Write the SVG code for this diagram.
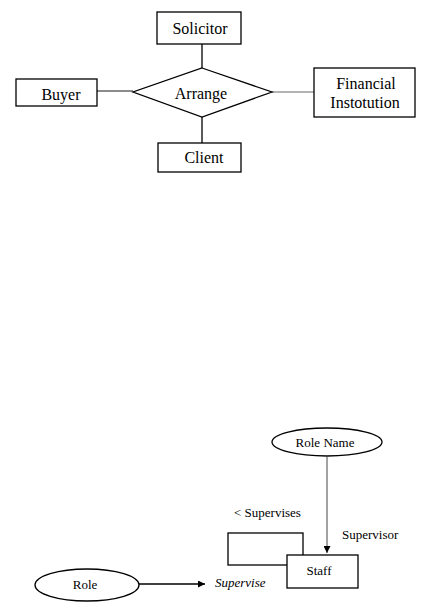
<svg xmlns="http://www.w3.org/2000/svg" width="433" height="612" viewBox="0 0 433 612">
<defs>
<style>
.box{fill:#fff;stroke:#000;stroke-width:1.3}
.t{font-family:"Liberation Serif","Times New Roman",serif;font-size:16px;fill:#000;text-anchor:middle}
.s{font-family:"Liberation Serif","Times New Roman",serif;font-size:13px;fill:#000}
.ln{stroke:#000;stroke-width:1.3;fill:none}
</style>
<marker id="ah" viewBox="0 0 10 10" refX="10" refY="5" markerWidth="7" markerHeight="7" orient="auto" markerUnits="userSpaceOnUse">
<path d="M0,0 L10,5 L0,10 z" fill="#000"/>
</marker>
</defs>
<rect width="433" height="612" fill="#fff"/>
<g id="connectors">
<line class="ln" x1="202" y1="44" x2="202" y2="68"/>
<line class="ln" x1="202" y1="117" x2="202" y2="143"/>
<line x1="97" y1="91" x2="133" y2="91" stroke="#666" stroke-width="1.3"/>
<line x1="272" y1="92" x2="314" y2="92" stroke="#9a9a9a" stroke-width="1.3"/>
<line x1="327" y1="457" x2="327" y2="553" stroke="#999" stroke-width="1.8" marker-end="url(#ah)"/>
<line class="ln" x1="139" y1="584" x2="205" y2="584" marker-end="url(#ah)"/>
</g>
<g id="solicitor"><rect class="box" x="157" y="12" width="84" height="32"/><text class="t" x="200" y="34">Solicitor</text></g>
<g id="arrange"><polygon class="box" points="202,68 272,92 202,117 133,92"/><text class="t" x="201" y="99">Arrange</text></g>
<g id="buyer"><rect class="box" x="16" y="79" width="81" height="27"/><text class="t" x="61" y="100">Buyer</text></g>
<g id="financial"><rect class="box" x="314" y="68" width="101" height="49"/><text class="t" x="366" y="89">Financial</text><text class="t" x="365" y="108">Instotution</text></g>
<g id="client"><rect class="box" x="158" y="143" width="83" height="29"/><text class="t" x="204" y="163">Client</text></g>
<g id="rolename"><ellipse class="box" cx="327" cy="442" rx="55" ry="14"/><text class="s" x="325" y="447" text-anchor="middle">Role Name</text></g>
<g id="self-loop"><rect class="box" x="228" y="533" width="75" height="32"/></g>
<g id="staff"><rect class="box" x="287" y="555" width="71" height="33"/><text class="s" x="319" y="575" text-anchor="middle">Staff</text></g>
<g id="role"><ellipse class="box" cx="87" cy="585" rx="52" ry="16"/><text class="s" x="85" y="589" text-anchor="middle">Role</text></g>
<g id="labels">
<text class="s" x="234" y="517">&lt; Supervises</text>
<text class="s" x="342" y="539">Supervisor</text>
<text class="s" x="215" y="587" font-style="italic">Supervise</text>
</g>
</svg>
